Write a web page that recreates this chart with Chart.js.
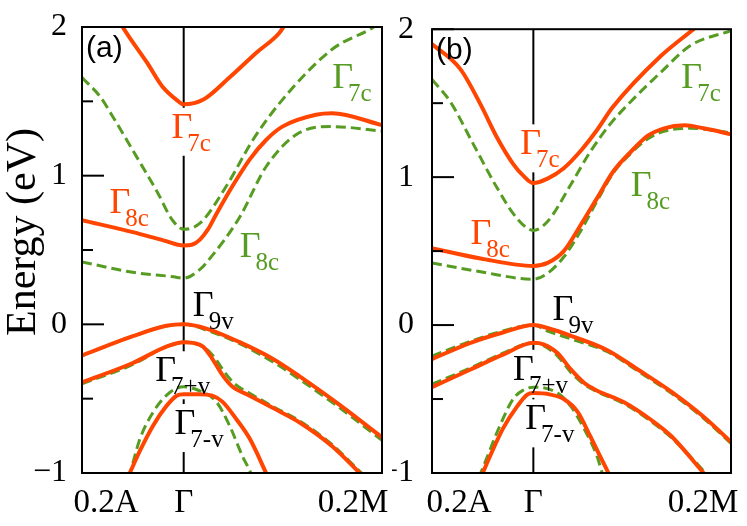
<!DOCTYPE html>
<html>
<head>
<meta charset="utf-8">
<script src="https://cdn.jsdelivr.net/npm/chart.js@4.4.1/dist/chart.umd.min.js"></script>
<style>
  html, body { margin: 0; padding: 0; background: #fff; }
  #wrap { position: relative; width: 747px; height: 526px; }
  #wrap canvas { position: absolute; top: 0; }
</style>
</head>
<body>
<div id="wrap">
  <canvas id="panelA" width="392" height="526" style="left:0"></canvas>
  <canvas id="panelB" width="355" height="526" style="left:392px"></canvas>
</div>
<script>
// k axis: 0.2A at -1, Gamma at 0, 0.2M at the right edge
const xTicks = [-1, 0, 1.95];
const xTickLabels = ['0.2A', 'Γ', '0.2M'];
const yMin = -1, yMax = 2;

// ---- panel (a): [k, E] pairs ----
const aRed7c  = [[-0.64,2.05],[-0.6,2.0],[-0.36,1.76],[-0.21,1.60],[-0.07,1.51],[0,1.48],[0.19,1.51],[0.45,1.66],[0.72,1.83],[0.94,1.96],[1.0,2.02]];
const aRed8c  = [[-1,0.70],[-0.5,0.62],[-0.2,0.565],[0,0.53],[0.08,0.535],[0.16,0.57],[0.24,0.64],[0.32,0.74],[0.48,0.93],[0.65,1.11],[0.81,1.24],[0.97,1.33],[1.30,1.41],[1.46,1.42],[1.95,1.34]];
const aRed9v  = [[-1,-0.21],[-0.5,-0.08],[-0.17,-0.01],[0,0],[0.23,-0.03],[0.55,-0.12],[0.87,-0.23],[1.14,-0.35],[1.53,-0.54],[1.95,-0.76]];
const aRed7p  = [[-1,-0.39],[-0.5,-0.26],[-0.17,-0.15],[0,-0.12],[0.09,-0.125],[0.19,-0.15],[0.28,-0.23],[0.38,-0.34],[0.48,-0.42],[0.62,-0.47],[0.87,-0.56],[1.14,-0.66],[1.46,-0.82],[1.73,-1.0],[1.8,-1.05]];
const aRed7m  = [[-0.55,-1.03],[-0.53,-1.0],[-0.43,-0.85],[-0.30,-0.68],[-0.17,-0.55],[-0.07,-0.48],[0,-0.47],[0.15,-0.47],[0.28,-0.48],[0.38,-0.52],[0.52,-0.64],[0.65,-0.77],[0.81,-1.0],[0.83,-1.03]];
const aGrn7c  = [[-1,1.66],[-0.82,1.53],[-0.70,1.40],[-0.56,1.24],[-0.50,1.17],[-0.26,0.89],[-0.11,0.70],[0,0.64],[0.16,0.68],[0.42,0.93],[0.68,1.24],[0.97,1.51],[1.46,1.85],[1.87,2.0],[1.95,2.04]];
const aGrn8c  = [[-1,0.42],[-0.5,0.35],[-0.1,0.32],[0,0.31],[0.16,0.37],[0.23,0.42],[0.55,0.72],[0.81,1.06],[1.14,1.29],[1.46,1.33],[1.95,1.30]];
const aGrn9v  = [[-1,-0.21],[-0.5,-0.08],[-0.17,-0.01],[0,0],[0.23,-0.04],[0.55,-0.13],[0.87,-0.25],[1.14,-0.37],[1.53,-0.56],[1.95,-0.78]];
const aGrn7p  = [[-1,-0.40],[-0.5,-0.27],[-0.17,-0.15],[0,-0.12],[0.19,-0.15],[0.30,-0.22],[0.40,-0.32],[0.50,-0.40],[0.64,-0.46],[0.87,-0.55],[1.14,-0.65],[1.46,-0.81],[1.75,-1.0],[1.8,-1.03]];
const aGrn7m  = [[-0.55,-1.03],[-0.53,-1.0],[-0.43,-0.77],[-0.30,-0.59],[-0.14,-0.46],[0,-0.42],[0.13,-0.44],[0.32,-0.52],[0.45,-0.68],[0.58,-0.89],[0.66,-1.0],[0.68,-1.04]];

// ---- panel (b) ----
const bRed7c  = [[-1,1.90],[-0.72,1.73],[-0.52,1.49],[-0.36,1.27],[-0.20,1.09],[-0.10,1.01],[0,0.96],[0.14,0.99],[0.30,1.06],[0.47,1.18],[0.63,1.32],[0.78,1.47],[1.26,1.82],[1.58,2.0],[1.65,2.04]];
const bRed8c  = [[-1,0.52],[-0.52,0.45],[0,0.40],[0.14,0.42],[0.30,0.50],[0.47,0.68],[0.63,0.86],[0.79,1.04],[0.96,1.17],[1.13,1.28],[1.29,1.33],[1.49,1.35],[1.68,1.33],[1.95,1.29]];
const bRed9v  = [[-1,-0.23],[-0.62,-0.12],[-0.30,-0.05],[0,0],[0.14,-0.02],[0.40,-0.08],[0.73,-0.17],[1.03,-0.30],[1.36,-0.45],[1.68,-0.62],[1.95,-0.79]];
const bRed7p  = [[-1,-0.42],[-0.62,-0.30],[-0.30,-0.20],[0,-0.12],[0.10,-0.13],[0.24,-0.19],[0.37,-0.30],[0.50,-0.39],[0.62,-0.44],[0.89,-0.52],[1.16,-0.64],[1.36,-0.75],[1.68,-1.0],[1.72,-1.03]];
const bRed7m  = [[-0.52,-1.03],[-0.50,-1.0],[-0.43,-0.89],[-0.30,-0.70],[-0.16,-0.55],[-0.06,-0.47],[0,-0.46],[0.17,-0.47],[0.30,-0.50],[0.44,-0.59],[0.56,-0.75],[0.69,-0.93],[0.74,-1.0],[0.76,-1.03]];
const bGrn7c  = [[-1,1.66],[-0.82,1.51],[-0.59,1.22],[-0.36,0.93],[-0.16,0.72],[0,0.64],[0.14,0.70],[0.37,0.95],[0.56,1.17],[0.76,1.36],[0.96,1.51],[1.26,1.71],[1.55,1.89],[1.95,1.99]];
const bGrn8c  = [[-1,0.42],[-0.52,0.36],[0,0.31],[0.14,0.35],[0.30,0.46],[0.47,0.64],[0.63,0.84],[0.79,1.03],[0.96,1.16],[1.13,1.26],[1.29,1.31],[1.55,1.33],[1.95,1.30]];
const bGrn9v  = [[-1,-0.21],[-0.62,-0.11],[-0.30,-0.04],[0,0],[0.14,-0.04],[0.40,-0.10],[0.73,-0.18],[1.03,-0.31],[1.36,-0.46],[1.68,-0.63],[1.95,-0.80]];
const bGrn7p  = [[-1,-0.40],[-0.62,-0.29],[-0.30,-0.19],[0,-0.12],[0.10,-0.14],[0.24,-0.21],[0.37,-0.32],[0.50,-0.40],[0.63,-0.45],[0.89,-0.53],[1.16,-0.65],[1.36,-0.76],[1.70,-1.0],[1.74,-1.03]];
const bGrn7m  = [[-0.54,-1.03],[-0.52,-1.0],[-0.33,-0.68],[-0.20,-0.50],[-0.10,-0.44],[0,-0.42],[0.24,-0.46],[0.37,-0.55],[0.50,-0.70],[0.63,-0.89],[0.68,-1.0],[0.70,-1.03]];

const RED = '#ff4500';
const GREEN = '#579c22';
const SERIF = '"Liberation Serif", "Times New Roman", serif';

// level labels, anchored in data units (left of the Gamma, its baseline)
const labelsA = [
  { sub: '7c',  x: -0.12, y: 1.255,  color: RED },
  { sub: '8c',  x: -0.73, y: 0.75,   color: RED },
  { sub: '7c',  x: 1.46,  y: 1.59,   color: GREEN },
  { sub: '8c',  x: 0.55,  y: 0.456,  color: GREEN },
  { sub: '9v',  x: 0.09,  y: 0.054,  color: '#000' },
  { sub: '7+v', x: -0.28, y: -0.383, color: '#000' },
  { sub: '7-v', x: -0.09, y: -0.738, color: '#000' }
];
const labelsB = [
  { sub: '7c',  x: -0.13, y: 1.154,  color: RED },
  { sub: '8c',  x: -0.62, y: 0.55,   color: RED },
  { sub: '7c',  x: 1.46,  y: 1.60,   color: GREEN },
  { sub: '8c',  x: 0.96,  y: 0.87,   color: GREEN },
  { sub: '9v',  x: 0.19,  y: 0.034,  color: '#000' },
  { sub: '7+v', x: -0.20, y: -0.37,  color: '#000' },
  { sub: '7-v', x: -0.08, y: -0.705, color: '#000' }
];

function labelGeom(chart, l) {
  const ctx = chart.ctx;
  const px = chart.scales.x.getPixelForValue(l.x);
  const py = chart.scales.y.getPixelForValue(l.y);
  ctx.font = '36px ' + SERIF;
  const gw = ctx.measureText('Γ').width;
  ctx.font = '25px ' + SERIF;
  const sw = ctx.measureText(l.sub).width;
  const sx = px + gw - 5;
  return { px, py, sx, sy: py + 13, box: [px - 2, py - 30, sx + sw + 4 - px, 48] };
}

const TAG_FONT = '30px "Liberation Sans", Arial, sans-serif';

const bandPlot = {
  id: 'bandPlot',
  beforeDatasetsDraw(chart, args, opts) {
    const { ctx, chartArea: a } = chart;
    const gx = chart.scales.x.getPixelForValue(0);
    ctx.save();
    ctx.strokeStyle = '#000';
    ctx.lineWidth = 2;
    ctx.beginPath();
    ctx.moveTo(gx, a.top);
    ctx.lineTo(gx, a.bottom);
    ctx.stroke();
    // labels sit on white, hiding what runs behind them
    ctx.fillStyle = '#fff';
    opts.labels.forEach(l => {
      const b = labelGeom(chart, l).box;
      ctx.fillRect(b[0], b[1], b[2], b[3]);
    });
    ctx.font = TAG_FONT;
    ctx.fillRect(a.left + 4, a.top + 3, ctx.measureText(opts.tag).width + 2, 34);
    ctx.restore();
  },
  afterDatasetsDraw(chart, args, opts) {
    const { ctx, chartArea: a } = chart;
    const xs = chart.scales.x;
    const ys = chart.scales.y;
    ctx.save();
    ctx.strokeStyle = '#000';
    ctx.lineWidth = 2;
    ctx.strokeRect(a.left, a.top, a.width, a.height);
    // inward ticks, long on whole eV, short on halves
    ys.ticks.forEach(t => {
      const py = ys.getPixelForValue(t.value);
      const len = Number.isInteger(t.value) ? 22 : 11;
      ctx.beginPath();
      ctx.moveTo(a.left, py);
      ctx.lineTo(a.left + len, py);
      ctx.stroke();
    });
    ctx.textBaseline = 'alphabetic';
    ctx.textAlign = 'left';
    opts.labels.forEach(l => {
      const g = labelGeom(chart, l);
      ctx.fillStyle = l.color;
      ctx.font = '36px ' + SERIF;
      ctx.fillText('Γ', g.px, g.py);
      ctx.font = '25px ' + SERIF;
      ctx.fillText(l.sub, g.sx, g.sy);
    });
    ctx.fillStyle = '#000';
    ctx.font = TAG_FONT;
    ctx.fillText(opts.tag, a.left + 4, a.top + 30);
    // k-point names, pulled inward at the panel edges
    ctx.textAlign = 'center';
    ctx.font = '33px ' + SERIF;
    xTicks.forEach((v, i) => {
      ctx.fillText(xTickLabels[i], xs.getPixelForValue(v) + opts.xShift[i], a.bottom + 39);
    });
    if (opts.yTitle) {
      ctx.translate(35, (a.top + a.bottom) / 2 - 18);
      ctx.rotate(-Math.PI / 2);
      ctx.font = '42px ' + SERIF;
      ctx.fillText(opts.yTitle, 0, 0);
    }
    ctx.restore();
  }
};

function bandSets(reds, greens) {
  const toXY = d => d.map(([x, y]) => ({ x, y }));
  const sets = [];
  reds.forEach(d => sets.push({ data: toXY(d), borderColor: RED, borderWidth: 4 }));
  greens.forEach(d => sets.push({ data: toXY(d), borderColor: GREEN, borderWidth: 3, borderDash: [10, 5] }));
  return sets;
}

function makePanel(id, sets, yWidth, padRight, tickPad, plugOpts) {
  return new Chart(document.getElementById(id), {
    type: 'line',
    data: { datasets: sets },
    plugins: [bandPlot],
    options: {
      responsive: false,
      animation: false,
      events: [],
      layout: { padding: { top: 27, right: padRight, left: 0, bottom: 0 } },
      elements: {
        point: { radius: 0 },
        line: { cubicInterpolationMode: 'monotone', fill: false }
      },
      plugins: {
        legend: { display: false },
        tooltip: { enabled: false },
        bandPlot: plugOpts
      },
      scales: {
        x: {
          type: 'linear',
          min: xTicks[0],
          max: xTicks[xTicks.length - 1],
          afterBuildTicks: s => { s.ticks = xTicks.map(v => ({ value: v })); },
          afterFit: s => { s.height = 53; },
          grid: { display: false },
          border: { display: false },
          ticks: { display: false }
        },
        y: {
          type: 'linear',
          min: yMin,
          max: yMax,
          afterFit: s => { s.width = yWidth; },
          grid: { display: false },
          border: { display: false },
          ticks: {
            stepSize: 0.5,
            padding: tickPad,
            color: '#000',
            font: { family: SERIF, size: 32 },
            callback: v => Number.isInteger(v) ? (v < 0 ? '\u2212' + Math.abs(v) : String(v)) : ''
          }
        }
      }
    }
  });
}

makePanel('panelA',
  bandSets([aRed7c, aRed8c, aRed9v, aRed7p, aRed7m], [aGrn7c, aGrn8c, aGrn9v, aGrn7p, aGrn7m]),
  82, 10, 7, { labels: labelsA, tag: '(a)', yTitle: 'Energy (eV)', xShift: [24, 0, -29] });

makePanel('panelB',
  bandSets([bRed7c, bRed8c, bRed9v, bRed7p, bRed7m], [bGrn7c, bGrn8c, bGrn9v, bGrn7p, bGrn7m]),
  40, 16, 10, { labels: labelsB, tag: '(b)', xShift: [27, 0, -28] });
</script>
</body>
</html>
